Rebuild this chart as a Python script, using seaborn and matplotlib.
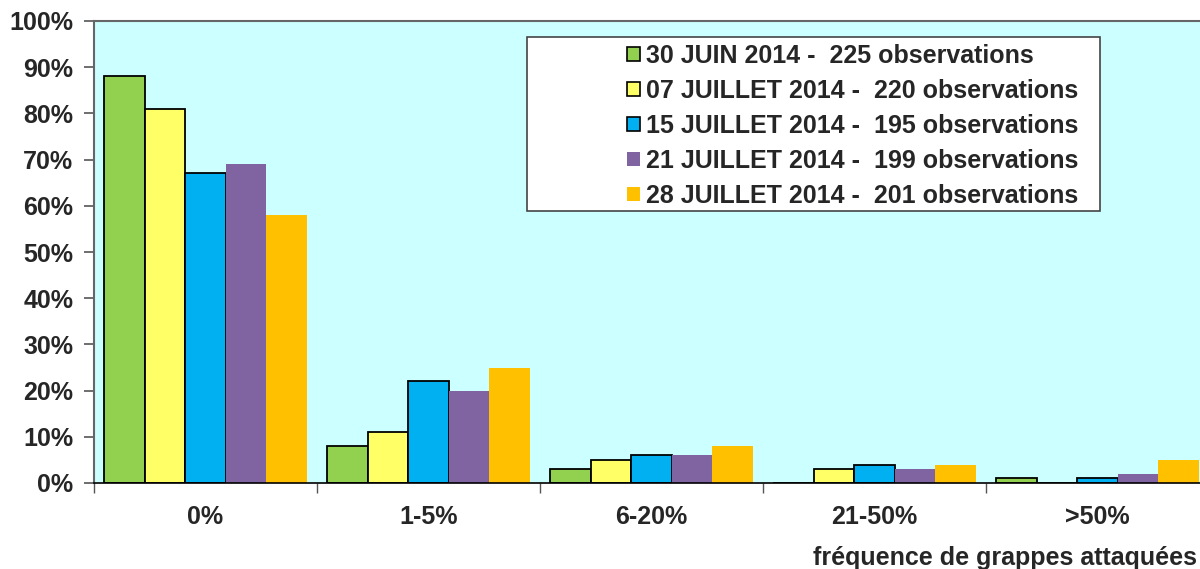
import matplotlib
matplotlib.use("Agg")
import matplotlib.pyplot as plt
import seaborn as sns
import pandas as pd
from matplotlib.patches import Rectangle, Patch

categories = ["0%", "1-5%", "6-20%", "21-50%", ">50%"]
series_names = [
    "30 JUIN 2014 -  225 observations",
    "07 JUILLET 2014 -  220 observations",
    "15 JUILLET 2014 -  195 observations",
    "21 JUILLET 2014 -  199 observations",
    "28 JUILLET 2014 -  201 observations",
]
juin30 = [88, 8, 3, 0, 1]
juil07 = [81, 11, 5, 3, 0]
juil15 = [67, 22, 6, 4, 1]
juil21 = [69, 20, 6, 3, 2]
juil28 = [58, 25, 8, 4, 5]
colors = ["#92D050", "#FFFF66", "#00B0F0", "#8064A2", "#FFC000"]
edged = [True, True, True, False, False]
y_ticks = list(range(0, 101, 10))
y_labels = [f"{v}%" for v in y_ticks]
x_label = "fréquence de grappes attaquées"

rows = []
for name, vals in zip(series_names, [juin30, juil07, juil15, juil21, juil28]):
    for c, v in zip(categories, vals):
        rows.append({"cat": c, "serie": name, "val": v})
df = pd.DataFrame(rows)

sns.set_theme(style="white")
plt.rcParams["font.family"] = ["Liberation Sans", "DejaVu Sans"]
plt.rcParams["font.weight"] = "bold"

FS = 18
fig = plt.figure(figsize=(12, 5.69), dpi=100)
ax = fig.add_axes([94 / 1200, 1 - 483 / 569, 1115 / 1200, 462 / 569])
ax.set_facecolor("#CCFFFF")

sns.barplot(data=df, x="cat", y="val", hue="serie", order=categories,
            hue_order=series_names, palette=colors, width=0.91, gap=0,
            saturation=1, ax=ax, legend=False, linewidth=0)

# edges for the first three series
n = len(categories)
for i, patch in enumerate(ax.patches):
    s = i // n
    if s < len(edged) and edged[s]:
        patch.set_edgecolor("black")
        patch.set_linewidth(1.3)
    else:
        patch.set_linewidth(0)

ax.set_xlim(-0.5, n - 0.5)
ax.set_ylim(0, 100)
ax.set_yticks(y_ticks)
ax.set_yticklabels(y_labels, fontsize=FS, fontweight="bold")
ax.set_xticks(range(n))
ax.set_xticklabels(categories, fontsize=FS, fontweight="bold")
ax.tick_params(axis="x", length=0, pad=16)
ax.set_xticks([i - 0.5 for i in range(n + 1)], minor=True)
ax.tick_params(axis="x", which="minor", length=7, width=1, color="#555555", direction="out", bottom=True)
ax.tick_params(axis="y", length=7, width=1.2, color="#555555", direction="out", left=True, pad=8)
ax.set_xlabel("")
ax.set_ylabel("")

for side in ["top", "left"]:
    ax.spines[side].set_visible(True)
    ax.spines[side].set_color("#666666")
    ax.spines[side].set_linewidth(1.5)
ax.spines["right"].set_visible(False)
ax.spines["bottom"].set_color("black")
ax.spines["bottom"].set_linewidth(1.2)

fig.text(1197 / 1200, 1 - 558 / 569, x_label, ha="right", va="center",
         fontsize=FS, fontweight="bold")

# legend box
rect = Rectangle((527 / 1200, 1 - 211 / 569), (1100 - 527) / 1200, (211 - 37) / 569,
                 transform=fig.transFigure, facecolor="white", edgecolor="#444444",
                 linewidth=1.2, zorder=4)
fig.add_artist(rect)
handles = [Patch(facecolor=c, edgecolor="black" if e else c, linewidth=1.2 if e else 0)
           for c, e in zip(colors, edged)]
leg = fig.legend(handles, series_names, loc="upper left",
                 bbox_to_anchor=(607 / 1200, 1 - 24 / 569), frameon=False,
                 prop={"size": FS, "weight": "bold"}, handlelength=0.5, handleheight=0.5,
                 handletextpad=0.25, labelspacing=0.44, borderpad=0.3)
leg.set_zorder(5)

fig.savefig("out.png", dpi=100)
